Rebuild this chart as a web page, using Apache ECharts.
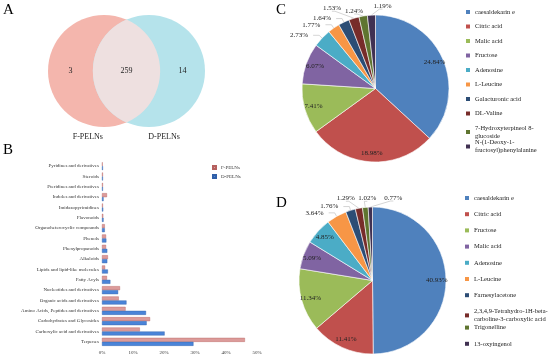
<!DOCTYPE html>
<html>
<head>
<meta charset="utf-8">
<script src="https://cdn.jsdelivr.net/npm/echarts@6/dist/echarts.min.js"></script>
<style>html,body{margin:0;padding:0;background:#fff}#c{width:550px;height:359px}</style>
</head>
<body>
<div id="c"></div>
<script>
// ---- Data ----
const vennSetNames = ['F-PELNs', 'D-PELNs'];
const vennCounts = [3, 259, 14]; // F only, shared, D only

const barCategories = ['Pyridines and derivatives','Steroids','Pteridines and derivatives','Indoles and derivatives','Imidazopyrimidines','Flavonoids','Organoheterocyclic compounds','Phenols','Phenylpropanoids','Alkaloids','Lipids and lipid-like molecules','Fatty Acyls','Nucleotides and derivatives','Organic acids and derivatives','Amino Acids, Peptides and derivatives','Carbohydrates and Glycosides','Carboxylic acid and derivatives','Terpenes'];
const barSeriesNames = ['F-PELNs', 'D-PELNs'];
const fValues = [0.2,0.3,0.3,1.6,0.3,0.4,0.9,1.3,1.3,1.9,1.0,1.6,5.8,5.4,7.6,15.5,12.2,46.1];
const dValues = [0.3,0.3,0.3,0.5,0.4,0.5,0.9,1.4,1.7,1.7,1.9,2.7,5.2,7.9,14.2,14.4,20.2,29.5];
const xTicks = [0, 10, 20, 30, 40, 50];

const pieCNames = ['caesaldekarin e','Citric acid','Malic acid','Fructose','Adenosine','L-Leucine','Galacturonic acid','DL-Valine','7-Hydroxyterpineol 8-glucoside','N-(1-Deoxy-1-fructosyl)phenylalanine'];
const pieCValues = [24.84,18.98,7.41,6.07,2.73,1.77,1.64,1.53,1.24,1.19];
const pieDNames = ['caesaldekarin e','Citric acid','Fructose','Malic acid','Adenosine','L-Leucine','Farnesylacetone','2,3,4,9-Tetrahydro-1H-beta-carboline-3-carboxylic acid','Trigonelline','13-oxyingenol'];
const pieDValues = [40.93,11.41,11.34,5.09,4.85,3.64,1.76,1.29,1.02,0.77];

// ---- Styles ----
const SERIF = 'Liberation Serif';
const palette = ['#4F81BD','#C0504D','#9BBB59','#8064A2','#4BACC6','#F79646','#2C4D75','#772C2A','#5F7530','#403152'];
const legendBreaks = {
  '7-Hydroxyterpineol 8-glucoside': '7-Hydroxyterpineol 8-\nglucoside',
  'N-(1-Deoxy-1-fructosyl)phenylalanine': 'N-(1-Deoxy-1-\nfructosyl)phenylalanine',
  '2,3,4,9-Tetrahydro-1H-beta-carboline-3-carboxylic acid': '2,3,4,9-Tetrahydro-1H-beta-\ncarboline-3-carboxylic acid'
};
// label offsets (relative to slice edge point) for the crowded small slices at the top
const pieCLabelShift = {7: [-22, -10], 8: [-9, -5], 9: [11, -9]};
const pieDLabelShift = {7: [-13, -10], 8: [2, -9], 9: [23, -9]};

const chart = echarts.init(document.getElementById('c'), null, {renderer: 'canvas'});

function pieSeries(names, values, center, radius, insideCount, shifts) {
  return {
    type: 'pie',
    center: center,
    radius: radius,
    startAngle: 90,
    clockwise: true,
    avoidLabelOverlap: false,
    itemStyle: {borderColor: '#fff', borderWidth: 0.6},
    label: {
      fontFamily: SERIF, fontSize: 7, color: '#222',
      formatter: p => p.value.toFixed(2) + '%'
    },
    labelLine: {length: 4, length2: 6, lineStyle: {color: '#aaa', width: 0.5}},
    labelLayout: function (p) {
      if (p.dataIndex < insideCount) {
        const lx = p.labelRect.x + p.labelRect.width / 2;
        const ly = p.labelRect.y + p.labelRect.height / 2;
        const k = 0.62;
        return {dx: (lx - center[0]) * k, dy: (ly - center[1]) * k};
      }
      const s = shifts[p.dataIndex];
      if (s && p.labelLinePoints) {
        const e = p.labelLinePoints[0];
        const x = e[0] + s[0], y = e[1] + s[1];
        return {
          x: x, y: y, align: 'center', verticalAlign: 'middle',
          labelLinePoints: [[e[0], e[1]], [x + (s[0] < 0 ? 6 : -6) * 0.5, y + 3], [x, y + 3]]
        };
      }
      return {};
    },
    data: names.map((n, i) => ({
      name: n, value: values[i],
      itemStyle: {color: palette[i]},
      label: {position: i < insideCount ? 'inside' : 'outside'},
      labelLine: {show: i >= insideCount}
    }))
  };
}

function pieLegends(names, left, firstCenter, spacing) {
  return names.map((n, i) => ({
    orient: 'vertical', left: left, top: firstCenter + i * spacing - 4,
    padding: 0, itemWidth: 4, itemHeight: 4, itemGap: 0,
    selectedMode: false,
    textStyle: {fontFamily: SERIF, fontSize: 6.5, lineHeight: 8, color: '#222'},
    formatter: nm => legendBreaks[nm] || nm,
    data: [{name: n, icon: 'rect', itemStyle: {color: palette[i], borderWidth: 0}}]
  }));
}

const vennColors = ['#F4B6AD', '#B5E3EB', '#EEE0E0'];

const option = {
  animation: false,
  backgroundColor: '#fff',
  title: [
    {text: 'A', left: 3, top: 3},
    {text: 'B', left: 3, top: 143},
    {text: 'C', left: 276, top: 3},
    {text: 'D', left: 276, top: 196}
  ].map(t => Object.assign(t, {padding: 0, textStyle: {fontFamily: SERIF, fontSize: 15, fontWeight: 'normal', color: '#000'}})),
  grid: [
    {left: 48, top: 15, width: 157, height: 112},
    {left: 102, top: 161, width: 155, height: 186}
  ],
  xAxis: [
    {gridIndex: 0, type: 'value', min: -1, max: 1.8, show: false},
    {gridIndex: 1, type: 'value', min: xTicks[0], max: xTicks[xTicks.length - 1], interval: xTicks[1] - xTicks[0],
     axisLine: {show: false}, axisTick: {show: false}, splitLine: {show: false},
     axisLabel: {formatter: '{value}%', fontFamily: SERIF, fontSize: 5, color: '#333', margin: 3}}
  ],
  yAxis: [
    {gridIndex: 0, type: 'value', min: -1, max: 1, show: false},
    {gridIndex: 1, type: 'category', data: barCategories, inverse: true,
     axisLine: {show: false}, axisTick: {show: false},
     axisLabel: {fontFamily: SERIF, fontSize: 5, color: '#333', margin: 3}}
  ],
  legend: [
    {orient: 'vertical', left: 212, top: 165, padding: 0, itemWidth: 3, itemHeight: 3, itemGap: 4,
     selectedMode: false, icon: 'rect',
     textStyle: {fontFamily: SERIF, fontSize: 5, lineHeight: 5, color: '#333'},
     data: barSeriesNames}
  ].concat(pieLegends(pieCNames, 466, 12, 14.5), pieLegends(pieDNames, 465, 198, 16.2)),
  series: [
    {
      type: 'custom', name: 'venn', xAxisIndex: 0, yAxisIndex: 0,
      data: vennCounts.map(c => [0, 0, c]),
      encode: {x: 0, y: 1},
      silent: true,
      renderItem: function (params, api) {
        const i = params.dataIndex;
        const r = api.size([1, 0])[0];
        const c1 = api.coord([0, 0]);
        const c2 = api.coord([0.8, 0]);
        const font = '8px ' + SERIF;
        const count = api.value(2);
        const children = [];
        if (i === 0 || i === 2) {
          const c = i === 0 ? c1 : c2;
          const setIdx = i === 0 ? 0 : 1;
          children.push({type: 'circle', shape: {cx: c[0], cy: c[1], r: r}, style: {fill: vennColors[setIdx]}, z2: 1});
          const lp = api.coord([i === 0 ? -0.6 : 1.4, 0]);
          children.push({type: 'text', x: lp[0], y: lp[1], z2: 5, style: {text: String(count), font: font, fill: '#222', align: 'center', verticalAlign: 'middle'}});
          const np = api.coord([i === 0 ? -0.29 : 1.07, -1.18]);
          children.push({type: 'text', x: np[0], y: np[1], z2: 5, style: {text: vennSetNames[setIdx], font: font, fill: '#222', align: 'center', verticalAlign: 'middle'}});
        } else {
          const d = c2[0] - c1[0];
          const mx = (c1[0] + c2[0]) / 2;
          const h = Math.sqrt(r * r - (d / 2) * (d / 2));
          const ty = c1[1] - h, by = c1[1] + h;
          children.push({type: 'path', z2: 3,
            shape: {pathData: `M ${mx} ${ty} A ${r} ${r} 0 0 1 ${mx} ${by} A ${r} ${r} 0 0 1 ${mx} ${ty} Z`},
            style: {fill: vennColors[2]}});
          const lp = api.coord([0.4, 0]);
          children.push({type: 'text', x: lp[0], y: lp[1], z2: 5, style: {text: String(count), font: font, fill: '#222', align: 'center', verticalAlign: 'middle'}});
        }
        return {type: 'group', children: children};
      }
    },
    {
      type: 'bar', name: barSeriesNames[0], xAxisIndex: 1, yAxisIndex: 1,
      data: fValues, barWidth: 4, barGap: '0%',
      itemStyle: {color: '#DC9B9A', borderColor: '#B5605E', borderWidth: 0.4}
    },
    {
      type: 'bar', name: barSeriesNames[1], xAxisIndex: 1, yAxisIndex: 1,
      data: dValues, barWidth: 4, barGap: '0%',
      itemStyle: {color: '#4A84D8', borderColor: '#2F5FA8', borderWidth: 0.4}
    },
    pieSeries(pieCNames, pieCValues, [375.5, 88.5], 73.5, 4, pieCLabelShift),
    pieSeries(pieDNames, pieDValues, [372.5, 280.5], 73.5, 5, pieDLabelShift)
  ]
};
chart.setOption(option);
</script>
</body>
</html>
